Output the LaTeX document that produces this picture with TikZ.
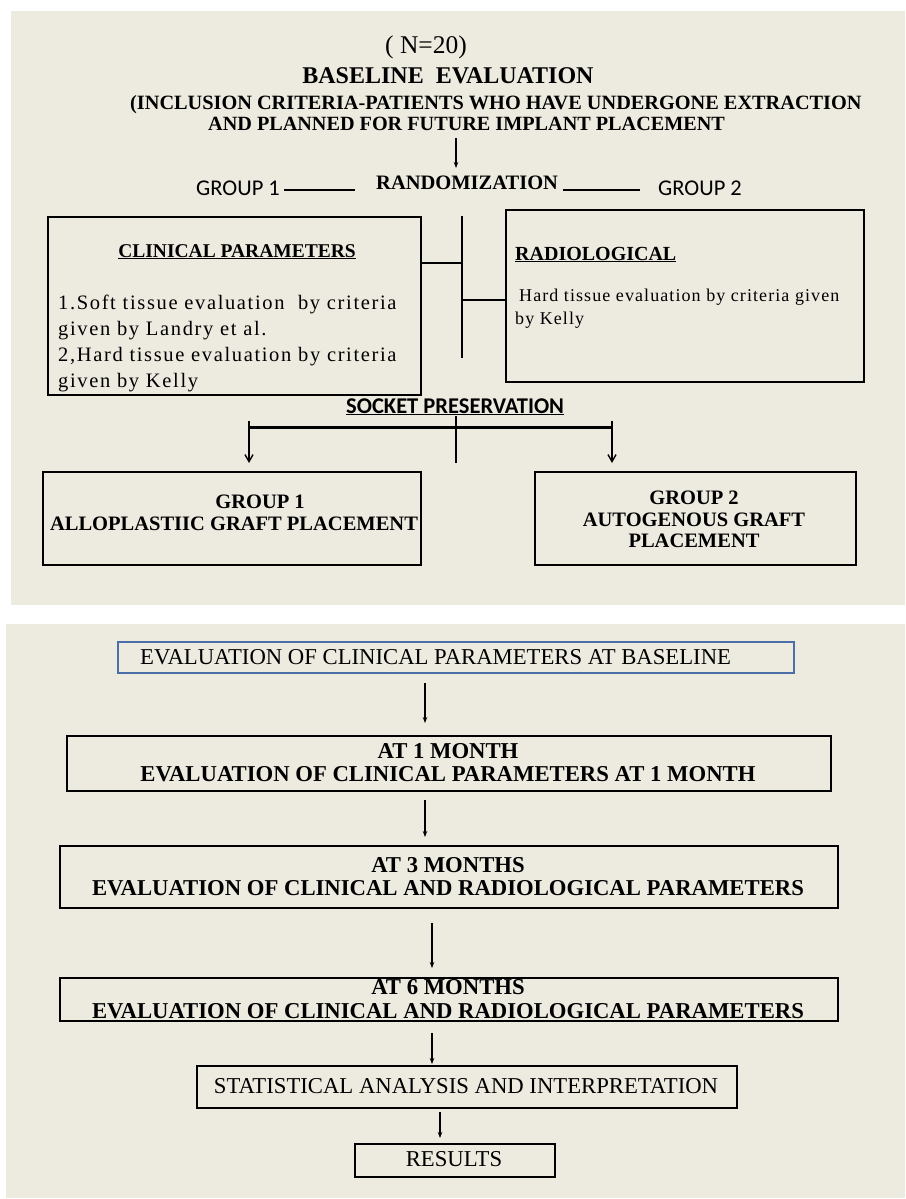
\documentclass[tikz,border=0pt]{standalone}
\usepackage{fontspec}
\setmainfont{Liberation Serif}
\newfontfamily\calib{Carlito}
\newfontfamily\spacedA[LetterSpace=8]{Liberation Serif}
\newfontfamily\spacedB[LetterSpace=6]{Liberation Serif}
\usetikzlibrary{arrows.meta}
\definecolor{bg}{RGB}{237,234,224}
\definecolor{bblue}{RGB}{74,110,168}
\newcommand{\fs}[1]{\fontsize{#1}{#1}\selectfont}
\begin{document}
\begin{tikzpicture}[x=1pt,y=-1pt,
  box/.style={draw=black, line width=1.8pt, inner sep=0pt, anchor=north west},
  tx/.style={inner sep=0pt, anchor=base},
  txw/.style={inner sep=0pt, anchor=base west},
  arr/.style={-{Stealth[length=6pt,width=4.5pt]}, line width=1.2pt},
  barb/.style={-{Straight Barb[length=7pt,width=8pt]}, line width=1.4pt},
  ln/.style={line width=2pt},
]
\useasboundingbox (0,0) rectangle (905,1199);
\fill[white] (0,0) rectangle (905,1199);
\fill[bg] (11,11) rectangle (905,605);
\fill[bg] (6,624) rectangle (905,1198);

% ---------- top panel ----------
\node[tx, font=\fs{25.5}] (n20) at (426,53) {( N=20)};
\node[tx, font=\fs{24}\bfseries] (base) at (448,84) {BASELINE \ EVALUATION};
\node[txw, font=\fs{20.3}\bfseries] (incl1) at (130,109) {(INCLUSION CRITERIA-PATIENTS WHO HAVE UNDERGONE EXTRACTION};
\node[txw, font=\fs{20.2}\bfseries] (incl2) at (208,130) {AND PLANNED FOR FUTURE IMPLANT PLACEMENT};

\node[txw, font=\calib\fs{22.5}] (g1) at (196,195) {GROUP 1};
\node[txw, font=\fs{20.5}\bfseries] (rand) at (376,189) {RANDOMIZATION};
\node[txw, font=\calib\fs{22.5}] (g2) at (658,195) {GROUP 2};

\coordinate (ra1) at (456,138);
\coordinate (ra2) at (456,168);
\draw[arr] (ra1) -- (ra2);
\coordinate (l1a) at (284,190);
\coordinate (l1b) at (355,190);
\coordinate (l2a) at (563,190);
\coordinate (l2b) at (640,190);
\draw[ln] (l1a) -- (l1b);
\draw[ln] (l2a) -- (l2b);

\node[box, minimum width=373, minimum height=178] (clin) at (47,216) {};
\node[box, minimum width=358, minimum height=172] (radio) at (505,209) {};
\coordinate (vtop) at (462,216);
\coordinate (vbot) at (462,358);
\coordinate (vj1) at (462,263);
\coordinate (vj2) at (462,300);
\draw[ln] (vtop) -- (vbot);
\draw[ln] (clin.east |- vj1) -- (vj1);
\draw[ln] (vj2) -- (radio.west |- vj2);

\node[tx, font=\fs{19.5}\bfseries] (cph) at (237,257) {\underline{CLINICAL PARAMETERS}};
\node[txw, font=\fs{20}\bfseries] (rph) at (515,260) {\underline{RADIOLOGICAL}};

\node[txw, font=\spacedA\fs{20.5}] (c1) at (58,309) {1.Soft tissue evaluation \ by criteria};
\node[txw, font=\spacedA\fs{20.5}] (c2) at (58,335) {given by Landry et al.};
\node[txw, font=\spacedA\fs{20.5}] (c3) at (58,361) {2,Hard tissue evaluation by criteria};
\node[txw, font=\spacedA\fs{20.5}] (c4) at (58,387) {given by Kelly};

\node[txw, font=\spacedB\fs{18}] (r1) at (519,301) {Hard tissue evaluation by criteria given};
\node[txw, font=\spacedB\fs{18}] (r2) at (515,324) {by Kelly};

\node[txw, font=\calib\fs{22.5}\bfseries] (sock) at (346,413) {\underline{SOCKET PRESERVATION}};
\coordinate (bl) at (249,427);
\coordinate (br) at (612,427);
\coordinate (bc) at (456,416);
\coordinate (bcd) at (456,463);
\draw[line width=3pt] (bl) -- (br);
\draw[line width=1.6pt] (bc) -- (bcd);

\node[box, minimum width=378, minimum height=93] (gp1) at (42,471) {};
\node[box, minimum width=321, minimum height=93] (gp2) at (534,471) {};
\coordinate (al) at (249,421);
\coordinate (ar) at (612,421);
\draw[barb] (al) -- (al |- 0,463);
\draw[barb] (ar) -- (ar |- 0,463);

\node[tx, font=\fs{20.5}\bfseries] (gp1a) at (260,508) {GROUP 1};
\node[tx, font=\fs{20.5}\bfseries] (gp1b) at (234,530) {ALLOPLASTIIC GRAFT PLACEMENT};
\node[tx, font=\fs{20.5}\bfseries] (gp2a) at (694,504) {GROUP 2};
\node[tx, font=\fs{20.5}\bfseries] (gp2b) at (694,526) {AUTOGENOUS GRAFT};
\node[tx, font=\fs{20.5}\bfseries] (gp2c) at (694,547) {PLACEMENT};

% ---------- bottom panel ----------
\node[box, draw=bblue, line width=1.5pt, minimum width=676, minimum height=31] (b0) at (117,641) {};
\node[txw, font=\fs{22.7}] (b0t) at (140,664) {EVALUATION OF CLINICAL PARAMETERS AT BASELINE};

\node[box, minimum width=764, minimum height=55] (b1) at (66,735) {};
\node[tx, font=\fs{22.7}\bfseries] (b1a) at (448,758) {AT 1 MONTH};
\node[tx, font=\fs{22.7}\bfseries] (b1b) at (448,781) {EVALUATION OF CLINICAL PARAMETERS AT 1 MONTH};

\node[box, minimum width=778, minimum height=62] (b3) at (59,845) {};
\node[tx, font=\fs{22.7}\bfseries] (b3a) at (448,872) {AT 3 MONTHS};
\node[tx, font=\fs{22.7}\bfseries] (b3b) at (448,895) {EVALUATION OF CLINICAL AND RADIOLOGICAL PARAMETERS};

\node[box, minimum width=778, minimum height=43] (b6) at (59,977) {};
\node[tx, font=\fs{22.7}\bfseries] (b6a) at (448,994) {AT 6 MONTHS};
\node[tx, font=\fs{22.7}\bfseries] (b6b) at (448,1018) {EVALUATION OF CLINICAL AND RADIOLOGICAL PARAMETERS};

\node[box, minimum width=540, minimum height=42] (bs) at (196,1065) {};
\node[tx, font=\fs{22.7}] (bst) at (466,1093) {STATISTICAL ANALYSIS AND INTERPRETATION};

\node[box, minimum width=200, minimum height=33] (bres) at (354,1143) {};
\node[tx, font=\fs{22.7}] (brt) at (454,1166) {RESULTS};

\coordinate (a1s) at (425,683);  \coordinate (a1e) at (425,723);
\coordinate (a2s) at (425,800);  \coordinate (a2e) at (425,837);
\coordinate (a3s) at (432,923);  \coordinate (a3e) at (432,968);
\coordinate (a4s) at (432,1033); \coordinate (a4e) at (432,1064);
\coordinate (a5s) at (440,1112); \coordinate (a5e) at (440,1138);
\draw[arr] (a1s) -- (a1e);
\draw[arr] (a2s) -- (a2e);
\draw[arr] (a3s) -- (a3e);
\draw[arr] (a4s) -- (a4e);
\draw[arr] (a5s) -- (a5e);
\end{tikzpicture}
\end{document}
